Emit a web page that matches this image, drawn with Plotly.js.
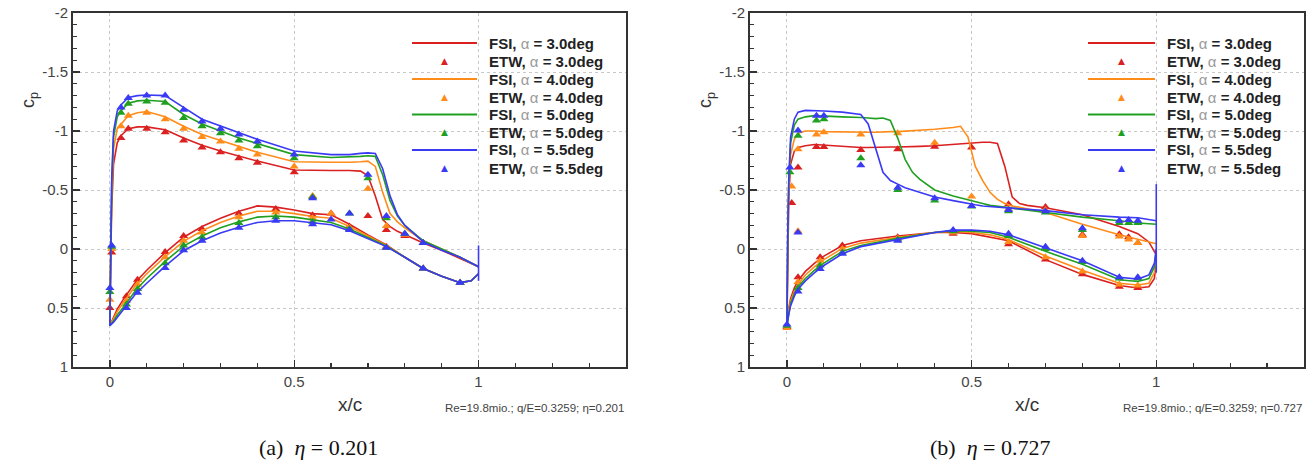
<!DOCTYPE html>
<html>
<head>
<meta charset="utf-8">
<script src="https://cdn.plot.ly/plotly-3.0.1.min.js"></script>
<style>
  html, body { margin: 0; padding: 0; background: #fff; }
  #chart { width: 1313px; height: 465px; }
</style>
</head>
<body>
<div id="chart"></div>
<script>
// ---------- angle of attack cases ----------
const alphaLabels = ['3.0', '4.0', '5.0', '5.5'];

// ---------- section (a): eta = 0.201 ----------
const xUpperA = [0, 0.002, 0.005, 0.01, 0.02, 0.03, 0.05, 0.075, 0.1, 0.15, 0.2, 0.25, 0.3, 0.35, 0.4, 0.5, 0.6, 0.65, 0.68, 0.7, 0.72, 0.74, 0.76, 0.78, 0.8, 0.85, 0.9, 0.95, 1.0];
const cpUpperA30 = [0.65, 0.15, -0.35, -0.72, -0.90, -0.96, -1.02, -1.035, -1.035, -1.01, -0.94, -0.88, -0.83, -0.785, -0.745, -0.67, -0.665, -0.665, -0.66, -0.62, -0.45, -0.25, -0.19, -0.15, -0.12, -0.05, 0.01, 0.08, 0.15];
const cpUpperA40 = [0.65, 0.10, -0.45, -0.85, -1.02, -1.06, -1.13, -1.155, -1.165, -1.12, -1.04, -0.97, -0.92, -0.87, -0.82, -0.74, -0.735, -0.735, -0.74, -0.745, -0.70, -0.48, -0.30, -0.23, -0.18, -0.07, 0.00, 0.07, 0.15];
const cpUpperA50 = [0.65, 0.05, -0.55, -0.95, -1.12, -1.17, -1.235, -1.255, -1.26, -1.25, -1.14, -1.06, -1.00, -0.94, -0.89, -0.80, -0.775, -0.78, -0.785, -0.79, -0.785, -0.63, -0.41, -0.28, -0.20, -0.07, 0.00, 0.07, 0.15];
const cpUpperA55 = [0.65, 0.00, -0.60, -1.00, -1.17, -1.22, -1.285, -1.30, -1.305, -1.30, -1.20, -1.10, -1.04, -0.985, -0.93, -0.83, -0.80, -0.80, -0.81, -0.815, -0.81, -0.68, -0.45, -0.29, -0.20, -0.06, 0.01, 0.07, 0.15];

const xLowerA = [0, 0.01, 0.02, 0.04, 0.07, 0.1, 0.15, 0.2, 0.25, 0.3, 0.35, 0.4, 0.45, 0.5, 0.55, 0.6, 0.65, 0.7, 0.75, 0.8, 0.85, 0.9, 0.95, 0.98, 1.0];
const cpLowerA30 = [0.65, 0.58, 0.51, 0.41, 0.28, 0.18, 0.03, -0.10, -0.19, -0.26, -0.32, -0.365, -0.355, -0.33, -0.30, -0.29, -0.21, -0.12, -0.035, 0.07, 0.165, 0.23, 0.285, 0.27, 0.21];
const cpLowerA40 = [0.65, 0.59, 0.53, 0.44, 0.31, 0.21, 0.065, -0.065, -0.155, -0.225, -0.28, -0.32, -0.32, -0.30, -0.275, -0.26, -0.19, -0.11, -0.03, 0.07, 0.165, 0.23, 0.285, 0.27, 0.21];
const cpLowerA50 = [0.65, 0.61, 0.56, 0.48, 0.35, 0.25, 0.105, -0.025, -0.11, -0.18, -0.23, -0.27, -0.28, -0.27, -0.245, -0.225, -0.17, -0.10, -0.025, 0.07, 0.165, 0.23, 0.285, 0.27, 0.21];
const cpLowerA55 = [0.65, 0.62, 0.58, 0.51, 0.38, 0.29, 0.145, 0.015, -0.07, -0.135, -0.185, -0.225, -0.24, -0.24, -0.225, -0.205, -0.155, -0.09, -0.02, 0.07, 0.165, 0.23, 0.285, 0.27, 0.21];

// trailing-edge closure of the 5.5 deg solution
const teXA55 = [1, 1];
const teCpA55 = [-0.03, 0.27];

// wind tunnel taps: upper side first, then lower side
const etwXA = [0, 0.005, 0.03, 0.05, 0.1, 0.15, 0.2, 0.25, 0.3, 0.35, 0.4, 0.5, 0.55, 0.6, 0.65, 0.7, 0.75, 0.8, 0.85,
               0.045, 0.075, 0.15, 0.2, 0.25, 0.35, 0.45, 0.55, 0.65, 0.75, 0.85, 0.95];
const etwCpA30 = [0.50, 0.03, -0.94, -1.02, -1.02, -0.99, -0.92, -0.86, -0.82, -0.77, -0.73, -0.65, null, -0.30, null, -0.28, -0.16, -0.11, -0.05,
                  0.40, 0.26, 0.025, -0.11, -0.17, -0.30, -0.34, -0.285, -0.19, -0.02, 0.165, 0.285];
const etwCpA40 = [0.43, 0.00, -1.04, -1.13, -1.155, -1.10, -1.02, -0.95, -0.91, -0.85, -0.80, -0.70, -0.45, -0.30, null, -0.51, -0.195, -0.12, -0.05,
                  0.44, 0.30, 0.07, -0.07, -0.14, -0.27, -0.31, -0.26, -0.18, -0.02, 0.165, 0.285];
const etwCpA50 = [0.365, -0.02, -1.155, -1.23, -1.25, -1.24, -1.11, -1.04, -0.98, -0.92, -0.87, -0.77, -0.44, null, -0.30, -0.60, -0.26, -0.13, -0.05,
                  0.47, 0.34, 0.12, -0.03, -0.10, -0.22, -0.27, -0.23, -0.17, -0.01, 0.165, 0.285];
const etwCpA55 = [0.33, -0.03, -1.20, -1.28, -1.30, -1.30, -1.18, -1.08, -1.02, -0.97, -0.91, -0.80, -0.43, -0.25, -0.30, -0.63, -0.28, -0.13, -0.05,
                  0.50, 0.37, 0.16, 0.01, -0.07, -0.18, -0.24, -0.21, -0.16, -0.01, 0.165, 0.285];

// ---------- section (b): eta = 0.727 ----------
const xUpperB = [0, 0.002, 0.005, 0.01, 0.02, 0.03, 0.05, 0.075, 0.1, 0.15, 0.2, 0.22, 0.24, 0.26, 0.28, 0.3, 0.32, 0.34, 0.36, 0.4, 0.45, 0.47, 0.49, 0.51, 0.53, 0.55, 0.57, 0.59, 0.61, 0.63, 0.65, 0.7, 0.8, 0.9, 0.95, 0.98, 1.0];
const cpUpperB30 = [0.65, 0.05, -0.45, -0.72, -0.83, -0.86, -0.875, -0.885, -0.885, -0.87, -0.86, -0.86, -0.86, -0.862, -0.865, -0.865, -0.865, -0.867, -0.87, -0.875, -0.885, -0.89, -0.895, -0.90, -0.905, -0.905, -0.895, -0.70, -0.44, -0.385, -0.37, -0.35, -0.29, -0.19, -0.13, -0.06, 0.05];
const cpUpperB40 = [0.65, 0.00, -0.50, -0.80, -0.93, -0.98, -1.00, -1.00, -0.995, -0.99, -0.99, -0.99, -0.99, -0.99, -0.995, -0.995, -1.00, -1.00, -1.005, -1.015, -1.03, -1.04, -0.95, -0.70, -0.58, -0.48, -0.42, -0.385, -0.365, -0.35, -0.34, -0.31, -0.21, -0.12, -0.08, -0.06, -0.045];
const cpUpperB50 = [0.65, -0.05, -0.55, -0.90, -1.05, -1.10, -1.12, -1.13, -1.13, -1.12, -1.115, -1.11, -1.105, -1.11, -1.09, -0.94, -0.76, -0.65, -0.59, -0.50, -0.45, -0.435, -0.42, -0.40, -0.385, -0.37, -0.36, -0.35, -0.34, -0.335, -0.33, -0.31, -0.27, -0.24, -0.22, -0.215, -0.21];
const cpUpperB55 = [0.65, -0.10, -0.60, -0.95, -1.10, -1.16, -1.175, -1.175, -1.17, -1.16, -1.14, -1.06, -0.86, -0.65, -0.58, -0.55, -0.52, -0.50, -0.48, -0.44, -0.41, -0.40, -0.385, -0.375, -0.365, -0.36, -0.355, -0.35, -0.345, -0.34, -0.335, -0.325, -0.29, -0.27, -0.265, -0.25, -0.24];

const xLowerB = [0, 0.005, 0.01, 0.02, 0.03, 0.05, 0.075, 0.1, 0.15, 0.2, 0.3, 0.4, 0.45, 0.5, 0.55, 0.6, 0.7, 0.8, 0.9, 0.95, 0.98, 0.995, 1.0];
const cpLowerB30 = [0.65, 0.50, 0.42, 0.33, 0.27, 0.19, 0.12, 0.06, -0.03, -0.07, -0.11, -0.14, -0.14, -0.13, -0.10, -0.07, 0.09, 0.215, 0.31, 0.33, 0.32, 0.25, 0.10];
const cpLowerB40 = [0.65, 0.52, 0.44, 0.36, 0.30, 0.22, 0.15, 0.09, -0.005, -0.05, -0.10, -0.14, -0.15, -0.14, -0.12, -0.08, 0.06, 0.18, 0.29, 0.305, 0.29, 0.20, 0.05];
const cpLowerB50 = [0.65, 0.54, 0.46, 0.38, 0.32, 0.25, 0.18, 0.12, 0.02, -0.03, -0.09, -0.14, -0.155, -0.15, -0.14, -0.10, 0.02, 0.13, 0.26, 0.275, 0.25, 0.15, 0.00];
const cpLowerB55 = [0.65, 0.55, 0.48, 0.40, 0.34, 0.27, 0.20, 0.14, 0.04, -0.02, -0.08, -0.14, -0.16, -0.16, -0.15, -0.12, -0.01, 0.10, 0.24, 0.255, 0.22, 0.12, 0.00];

const teXB55 = [1, 1];
const teCpB55 = [-0.55, 0.20];

const etwXB = [0.008, 0.013, 0.03, 0.03, 0.08, 0.1, 0.2, 0.3, 0.4, 0.5, 0.6, 0.7, 0.8, 0.9, 0.925, 0.95,
               0, 0.03, 0.09, 0.15, 0.3, 0.45, 0.6, 0.7, 0.8, 0.9, 0.95];
const etwCpB30 = [null, -0.39, -0.69, null, -0.865, -0.865, -0.84, -0.845, -0.867, -0.86, -0.38, -0.355, -0.12, -0.125, -0.10, -0.05,
                  0.66, 0.24, 0.07, -0.03, -0.10, -0.13, -0.04, 0.09, 0.215, 0.32, 0.33];
const etwCpB40 = [null, -0.53, -0.845, -0.15, -0.97, -0.99, -0.97, -0.98, -0.90, -0.445, -0.34, -0.33, -0.11, -0.105, -0.08, -0.05,
                  0.67, 0.28, 0.10, 0.00, -0.09, -0.14, -0.06, 0.07, 0.19, 0.30, 0.31];
const etwCpB50 = [-0.65, null, -0.96, null, -1.09, -1.10, -0.77, -0.50, -0.41, -0.36, -0.32, -0.31, -0.16, -0.22, -0.22, -0.22,
                  0.65, 0.33, 0.14, 0.03, -0.08, -0.15, -0.11, 0.00, 0.11, 0.25, 0.25];
const etwCpB55 = [-0.69, null, -1.005, -0.14, -1.13, -1.13, -0.71, -0.52, -0.43, -0.365, -0.33, -0.32, -0.175, -0.24, -0.245, -0.24,
                  0.64, 0.36, 0.17, 0.04, -0.07, -0.16, -0.13, -0.02, 0.10, 0.24, 0.24];

// ---------- axis ticks ----------
const xTickVals = [0, 0.5, 1];
const xTickText = ['0', '0.5', '1'];
const yTickVals = [-2, -1.5, -1, -0.5, 0, 0.5, 1];
const yTickText = ['-2', '-1.5', '-1', '-0.5', '0', '0.5', '1'];

// ---------- figure text ----------
const flowInfo = ['Re=19.8mio.; q/E=0.3259; \u03b7=0.201', 'Re=19.8mio.; q/E=0.3259; \u03b7=0.727'];
const captions = ['(a)&nbsp; <i>\u03b7</i> = 0.201', '(b)&nbsp; <i>\u03b7</i> = 0.727'];

// ---------- styling ----------
const seriesColors = ['#da2020', '#ff8c1a', '#20a020', '#3a3af5'];
const W = 1313, H = 465;
const fx = p => p / W;          // pixel -> paper (horizontal)
const fy = p => 1 - p / H;      // pixel -> paper (vertical)

const panels = [
  { xa: 'x', ya: 'y', xUp: xUpperA, cpUp: [cpUpperA30, cpUpperA40, cpUpperA50, cpUpperA55],
    xLo: xLowerA, cpLo: [cpLowerA30, cpLowerA40, cpLowerA50, cpLowerA55],
    teX: teXA55, teCp: teCpA55, etwX: etwXA, etwCp: [etwCpA30, etwCpA40, etwCpA50, etwCpA55] },
  { xa: 'x2', ya: 'y2', xUp: xUpperB, cpUp: [cpUpperB30, cpUpperB40, cpUpperB50, cpUpperB55],
    xLo: xLowerB, cpLo: [cpLowerB30, cpLowerB40, cpLowerB50, cpLowerB55],
    teX: teXB55, teCp: teCpB55, etwX: etwXB, etwCp: [etwCpB30, etwCpB40, etwCpB50, etwCpB55] }
];

const traces = [];
panels.forEach(pn => {
  alphaLabels.forEach((a, i) => {
    // simulated distribution: upper side from TE to LE, then lower side back to TE
    traces.push({
      type: 'scatter', mode: 'lines', xaxis: pn.xa, yaxis: pn.ya,
      name: 'FSI, \u03b1 = ' + a + 'deg', showlegend: false, hoverinfo: 'skip',
      x: pn.xUp.slice().reverse().concat(pn.xLo),
      y: pn.cpUp[i].slice().reverse().concat(pn.cpLo[i]),
      line: { color: seriesColors[i], width: 1.6 }
    });
    if (i === 3) {
      traces.push({
        type: 'scatter', mode: 'lines', xaxis: pn.xa, yaxis: pn.ya, showlegend: false, hoverinfo: 'skip',
        x: pn.teX, y: pn.teCp, line: { color: seriesColors[i], width: 1.6 }
      });
    }
    traces.push({
      type: 'scatter', mode: 'markers', xaxis: pn.xa, yaxis: pn.ya,
      name: 'ETW, \u03b1 = ' + a + 'deg', showlegend: false, hoverinfo: 'skip',
      x: pn.etwX, y: pn.etwCp[i],
      marker: { symbol: 'triangle-up', size: 8, color: seriesColors[i], line: { width: 0 } }
    });
  });
});

const axisFont = { family: 'Liberation Sans, Arial, sans-serif', size: 15, color: '#444' };
function xAxis(domain) {
  return {
    domain: domain, range: [-0.1, 1.4], tickmode: 'array', tickvals: xTickVals, ticktext: xTickText,
    ticks: 'inside', ticklen: 7, tickwidth: 1.4, tickcolor: '#333',
    minor: { dtick: 0.1, tick0: 0, ticks: 'inside', ticklen: 4, tickwidth: 1.2, tickcolor: '#333', showgrid: false },
    showline: true, linewidth: 2, linecolor: '#333', mirror: true,
    showgrid: true, gridcolor: '#c8c8c8', griddash: 'dot', gridwidth: 1,
    zeroline: false, tickfont: axisFont, automargin: false, fixedrange: true
  };
}
function yAxis(domain, anchor) {
  return {
    domain: domain, anchor: anchor, range: [1, -2], tickmode: 'array', tickvals: yTickVals, ticktext: yTickText,
    ticks: 'inside', ticklen: 7, tickwidth: 1.4, tickcolor: '#333',
    minor: { dtick: 0.1, tick0: 0, ticks: 'inside', ticklen: 4, tickwidth: 1.2, tickcolor: '#333', showgrid: false },
    showline: true, linewidth: 2, linecolor: '#333', mirror: true,
    showgrid: true, gridcolor: '#c8c8c8', griddash: 'dot', gridwidth: 1,
    zeroline: false, tickfont: axisFont, automargin: false, fixedrange: true
  };
}

const yDom = [fy(367), fy(13)];
const panelBox = [
  { left: 73, right: 626, legLine: [412, 477], legText: 487 },
  { left: 750, right: 1304, legLine: [1088, 1155], legText: 1165 }
];

const annotations = [];
const shapes = [];
const legendRows = [43, 61, 79, 97, 114.5, 132.5, 150, 168];

panelBox.forEach((b, k) => {
  const cx = (b.left + b.right) / 2;
  annotations.push({ xref: 'paper', yref: 'paper', x: fx(cx), y: fy(404), text: 'x/c', showarrow: false,
    xanchor: 'center', yanchor: 'middle', font: { family: 'Liberation Sans, Arial, sans-serif', size: 19, color: '#333' } });
  annotations.push({ xref: 'paper', yref: 'paper', x: fx(b.left - 44), y: fy(100), text: 'c<sub>p</sub>', showarrow: false,
    textangle: -90, xanchor: 'center', yanchor: 'middle', font: { family: 'Liberation Sans, Arial, sans-serif', size: 18, color: '#333' } });
  annotations.push({ xref: 'paper', yref: 'paper', x: fx(b.right), y: fy(408), text: flowInfo[k], showarrow: false,
    xanchor: 'right', yanchor: 'middle', font: { family: 'Liberation Sans, Arial, sans-serif', size: 11.5, color: '#444' } });
  annotations.push({ xref: 'paper', yref: 'paper', x: fx(k === 0 ? 318 : 990), y: fy(447), text: captions[k], showarrow: false,
    xanchor: 'center', yanchor: 'middle', font: { family: 'Liberation Serif, DejaVu Serif, serif', size: 22, color: '#111' } });

  // legend block
  alphaLabels.forEach((a, i) => {
    const yLine = legendRows[2 * i], yMark = legendRows[2 * i + 1];
    shapes.push({ type: 'line', xref: 'paper', yref: 'paper', x0: fx(b.legLine[0]), x1: fx(b.legLine[1]),
      y0: fy(yLine), y1: fy(yLine), line: { color: seriesColors[i], width: 1.8 } });
    annotations.push({ xref: 'paper', yref: 'paper', x: fx((b.legLine[0] + b.legLine[1]) / 2), y: fy(yMark),
      text: '\u25b2', showarrow: false, xanchor: 'center', yanchor: 'middle',
      font: { family: 'DejaVu Sans, sans-serif', size: 9, color: seriesColors[i] } });
    ['FSI', 'ETW'].forEach((src, j) => {
      annotations.push({ xref: 'paper', yref: 'paper', x: fx(b.legText), y: fy(j === 0 ? yLine : yMark),
        text: '<b>' + src + ', </b><span style="font-weight:normal;color:#9a9a9a">\u03b1</span><b> = ' + a + 'deg</b>',
        showarrow: false, xanchor: 'left', yanchor: 'middle',
        font: { family: 'Liberation Sans, Arial, sans-serif', size: 15, color: '#222' } });
    });
  });
});

const layout = {
  width: W, height: H,
  margin: { l: 0, r: 0, t: 0, b: 0, pad: 0 },
  paper_bgcolor: '#ffffff', plot_bgcolor: '#ffffff',
  showlegend: false,
  xaxis: xAxis([fx(73), fx(626)]),
  yaxis: yAxis(yDom, 'x'),
  xaxis2: xAxis([fx(750), fx(1304)]),
  yaxis2: yAxis(yDom, 'x2'),
  annotations: annotations,
  shapes: shapes
};
layout.xaxis.anchor = 'y';
layout.xaxis2.anchor = 'y2';

Plotly.newPlot('chart', traces, layout, { displayModeBar: false, staticPlot: true });
</script>
</body>
</html>
